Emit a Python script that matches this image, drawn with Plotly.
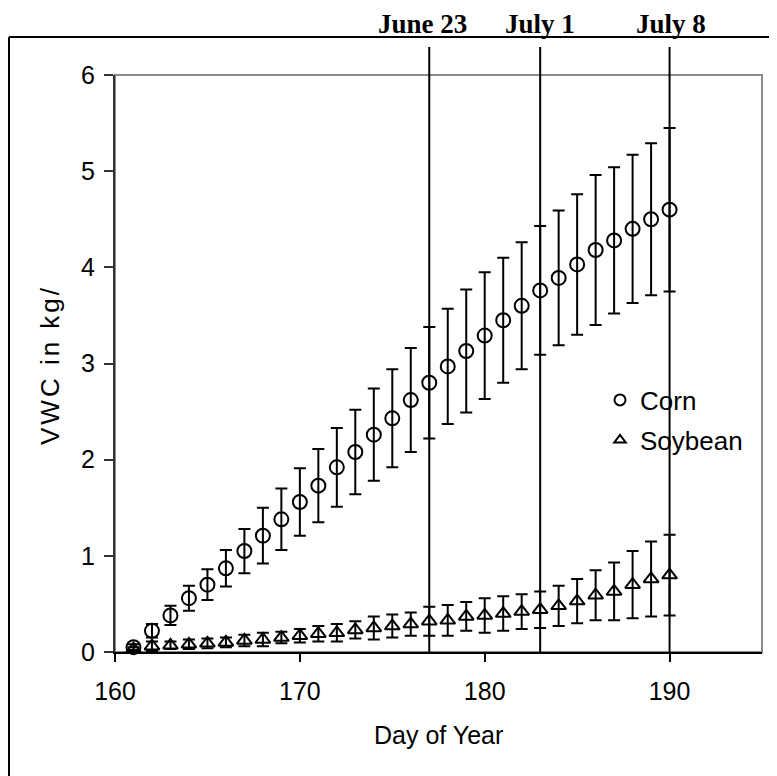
import plotly.graph_objects as go

# ---- data ----
days = list(range(161, 191))
corn_mean = [0.05, 0.22, 0.38, 0.56, 0.70, 0.87, 1.05, 1.21, 1.38, 1.56,
             1.73, 1.92, 2.08, 2.26, 2.43, 2.62, 2.80, 2.97, 3.13, 3.29,
             3.45, 3.60, 3.76, 3.89, 4.03, 4.18, 4.28, 4.40, 4.50, 4.60]
corn_err = [0.03, 0.07, 0.10, 0.13, 0.16, 0.19, 0.23, 0.29, 0.32, 0.35,
            0.38, 0.41, 0.44, 0.48, 0.51, 0.54, 0.58, 0.60, 0.64, 0.66,
            0.65, 0.66, 0.67, 0.70, 0.73, 0.78, 0.76, 0.77, 0.79, 0.85]
soy_mean = [0.03, 0.06, 0.07, 0.08, 0.09, 0.10, 0.12, 0.13, 0.15, 0.17,
            0.19, 0.20, 0.23, 0.25, 0.27, 0.29, 0.32, 0.33, 0.37, 0.38,
            0.40, 0.42, 0.44, 0.48, 0.53, 0.59, 0.63, 0.70, 0.76, 0.80]
soy_err = [0.02, 0.05, 0.04, 0.05, 0.05, 0.05, 0.06, 0.07, 0.06, 0.07,
           0.08, 0.09, 0.09, 0.12, 0.12, 0.12, 0.15, 0.16, 0.15, 0.18,
           0.18, 0.18, 0.19, 0.21, 0.23, 0.26, 0.30, 0.35, 0.39, 0.42]
event_days = [177, 183, 190]
event_labels = ["June 23", "July 1", "July 8"]
x_ticks = [160, 170, 180, 190]
y_ticks = [0, 1, 2, 3, 4, 5, 6]

SANS = "Liberation Sans, Arial, sans-serif"
SERIF = "Liberation Serif, Times New Roman, serif"

fig = go.Figure()
fig.add_trace(go.Scatter(
    x=days, y=corn_mean, mode="markers", name="Corn", showlegend=False,
    cliponaxis=False,
    marker=dict(symbol="circle-open", size=14, color="black", line=dict(width=2)),
    error_y=dict(type="data", array=corn_err, color="black", thickness=2, width=6)))
fig.add_trace(go.Scatter(
    x=days, y=soy_mean, mode="markers", name="Soybean", showlegend=False,
    cliponaxis=False,
    marker=dict(symbol="triangle-up-open", size=13, color="black", line=dict(width=2)),
    error_y=dict(type="data", array=soy_err, color="black", thickness=2, width=6)))
# legend entries
fig.add_trace(go.Scatter(
    x=[None], y=[None], mode="markers", name="Corn", legend="legend",
    marker=dict(symbol="circle-open", size=11, color="black", line=dict(width=2))))
fig.add_trace(go.Scatter(
    x=[None], y=[None], mode="markers", name="Soybean", legend="legend2",
    marker=dict(symbol="triangle-up-open", size=10, color="black", line=dict(width=2))))

OFF = 8  # page body margin
W, H = 777 - OFF, 776 - OFF
# plot area in page coordinates: x 115..762, y 75..652
ml, mr = 115 - OFF, 777 - 762
mt, mb = 75 - OFF, 776 - 652
pw, ph = W - ml - mr, H - mt - mb


def px(xpage):
    return (xpage - OFF - ml) / pw


def py(ypage):
    return (H - mb - (ypage - OFF)) / ph


shapes = [
    dict(type="rect", xref="paper", yref="paper", x0=0, x1=1, y0=0, y1=1,
         line=dict(color="#8a8a8a", width=2), layer="below"),
    dict(type="line", xref="paper", yref="paper", x0=px(9), x1=px(800),
         y0=py(37), y1=py(37), line=dict(color="black", width=2)),
    dict(type="line", xref="paper", yref="paper", x0=px(9), x1=px(9),
         y0=py(37), y1=py(800), line=dict(color="black", width=2)),
]
for d in event_days:
    shapes.append(dict(type="line", xref="x", yref="paper", x0=d, x1=d,
                       y0=0, y1=py(47), line=dict(color="black", width=2)))

annotations = []
offsets = [-0.35, 0.0, 0.1]
for d, lab, off in zip(event_days, event_labels, offsets):
    annotations.append(dict(x=d + off, xref="x", y=py(24), yref="paper",
                            text="<b>" + lab + "</b>", showarrow=False,
                            xanchor="center", yanchor="middle",
                            font=dict(family=SERIF, size=27, color="black")))
annotations.append(dict(x=px(50), y=py(365), xref="paper", yref="paper",
                        text='<span style="letter-spacing:3px">VWC in kg/</span>',
                        textangle=-90, showarrow=False,
                        xanchor="center", yanchor="middle",
                        font=dict(family=SANS, size=26, color="black")))
annotations.append(dict(x=px(438), y=py(735), xref="paper", yref="paper",
                        text="Day of Year", showarrow=False,
                        xanchor="center", yanchor="middle",
                        font=dict(family=SANS, size=25, color="black")))

fig.update_layout(
    width=W, height=H,
    margin=dict(l=ml, r=mr, t=mt, b=mb),
    paper_bgcolor="white", plot_bgcolor="white",
    font=dict(family=SANS, size=25, color="black"),
    xaxis=dict(range=[160, 195], tickvals=x_ticks, showline=True,
               linecolor="black", linewidth=2, ticks="outside", ticklen=8,
               tickwidth=1.5, tickcolor="black", showgrid=False, zeroline=False,
               tickfont=dict(family=SANS, size=25, color="black"),
               ticklabelstandoff=8),
    yaxis=dict(range=[0, 6], tickvals=y_ticks, showline=True,
               linecolor="#333333", linewidth=2, ticks="outside", ticklen=9,
               tickwidth=1.5, tickcolor="#333333", showgrid=False, zeroline=False,
               tickfont=dict(family=SANS, size=25, color="black"),
               ticklabelstandoff=4),
    legend=dict(x=px(600), y=py(400), xanchor="left", yanchor="middle",
                bgcolor="rgba(0,0,0,0)", font=dict(family=SANS, size=26),
                itemwidth=30),
    legend2=dict(x=px(600), y=py(440), xanchor="left", yanchor="middle",
                 bgcolor="rgba(0,0,0,0)", font=dict(family=SANS, size=26),
                 itemwidth=30),
    shapes=shapes,
    annotations=annotations,
)

fig.write_html("out.html")
